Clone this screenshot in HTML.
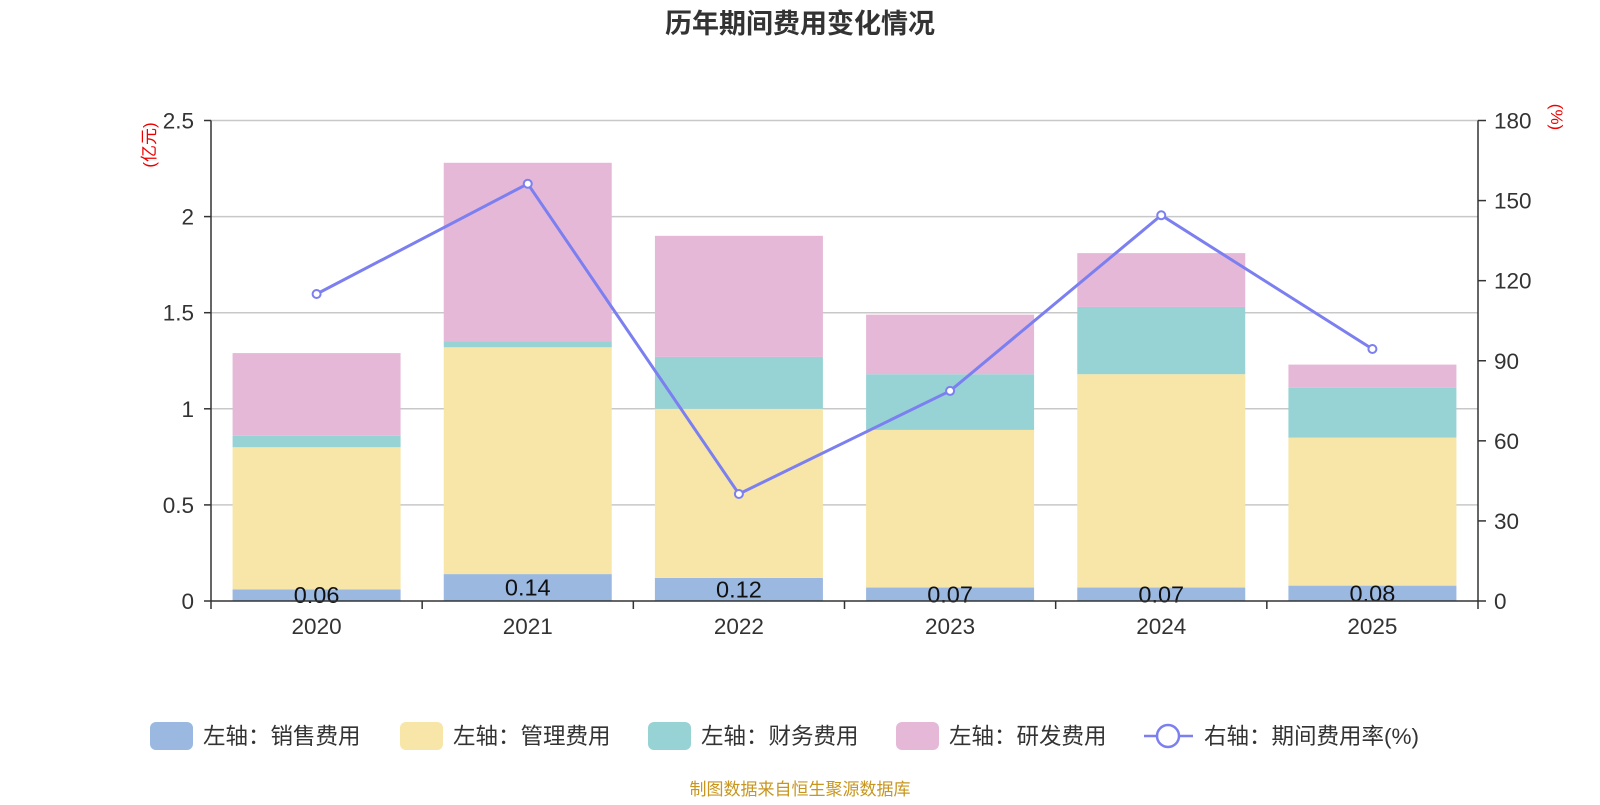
<!DOCTYPE html>
<html><head><meta charset="utf-8">
<style>
body{margin:0;background:#fff;}
svg text{font-family:"Liberation Sans","Noto Sans CJK SC",sans-serif;}
</style></head>
<body>
<svg id="chart" width="1600" height="800" viewBox="0 0 1600 800" xmlns="http://www.w3.org/2000/svg">
<text x="800" y="33" text-anchor="middle" font-size="27" font-weight="bold" fill="#333">历年期间费用变化情况</text>
<g id="grid"></g><g id="bars"></g><g id="line"></g><g id="axes"></g>
<text transform="translate(155,145) rotate(-90)" text-anchor="middle" font-size="17" fill="#e00">(亿元)</text>
<text transform="translate(1551,117) rotate(90)" text-anchor="middle" font-size="17" fill="#e00">(%)</text>
<g id="legend"></g>
<text x="800" y="795" text-anchor="middle" font-size="17" fill="#c8961e">制图数据来自恒生聚源数据库</text>
</svg>
<script>
const years=["2020","2021","2022","2023","2024","2025"];
const sales=[0.06,0.14,0.12,0.07,0.07,0.08];
const mgmt=[0.74,1.18,0.88,0.82,1.11,0.77];
const fin=[0.06,0.03,0.27,0.29,0.35,0.26];
const rd=[0.43,0.93,0.63,0.31,0.28,0.12];
const rate=[115,156.3,40.1,78.7,144.5,94.4];
const leftTicks=["0","0.5","1","1.5","2","2.5"];
const rightTicks=["0","30","60","90","120","150","180"];
const NS="http://www.w3.org/2000/svg";
const X0=211,X1=1478,Y0=601,Y1=120.5;
const yL=v=>Y0-(v/2.5)*(Y0-Y1);
const yR=v=>Y0-(v/180)*(Y0-Y1);
const bw=(X1-X0)/years.length;
const xc=i=>X0+bw*(i+0.5);
function mk(tag,attrs,parent,text){const e=document.createElementNS(NS,tag);for(const k in attrs)e.setAttribute(k,attrs[k]);if(text!==undefined)e.textContent=text;document.getElementById(parent).appendChild(e);return e;}
leftTicks.forEach(t=>{const v=parseFloat(t),y=yL(v);
 if(v>0){const g=mk('line',{x1:X0,x2:X1,y1:y,y2:y,stroke:'#c8c8c8','stroke-width':1.5},'grid');
 
 }
 mk('line',{x1:X0-7,x2:X0,y1:y,y2:y,stroke:'#333','stroke-width':1.5},'axes');
 const tx=mk('text',{x:X0-17,y:y+8,'text-anchor':'end','font-size':22.5,fill:'#333'},'axes',t);
 
 
});
rightTicks.forEach(t=>{const y=yR(parseFloat(t));
 mk('line',{x1:X1,x2:X1+8,y1:y,y2:y,stroke:'#333','stroke-width':1.5},'axes');
 const tx=mk('text',{x:X1+16,y:y+8,'font-size':22.5,fill:'#333'},'axes',t);
 
 
});
mk('line',{x1:X0,x2:X0,y1:Y1,y2:Y0,stroke:'#333','stroke-width':1.5},'axes');
mk('line',{x1:X1,x2:X1,y1:Y1,y2:Y0,stroke:'#333','stroke-width':1.5},'axes');
mk('line',{x1:X0,x2:X1,y1:Y0,y2:Y0,stroke:'#333','stroke-width':1.5},'axes');
for(let i=0;i<=years.length;i++){const x=X0+bw*i;mk('line',{x1:x,x2:x,y1:Y0,y2:Y0+8,stroke:'#333','stroke-width':1.5},'axes');}
years.forEach((yr,i)=>{const tx=mk('text',{x:xc(i),y:634,'text-anchor':'middle','font-size':22.5,fill:'#333'},'axes',yr);
 
 });
const series=[[sales,'#9bb8e0','sales'],[mgmt,'#f7e6a8','mgmt'],[fin,'#97d3d4','finance'],[rd,'#e6b8d8','rd']];
const w=168;
years.forEach((yr,i)=>{let base=0;
 series.forEach(([arr,col,nm])=>{const top=base+arr[i];
  const r=mk('rect',{x:xc(i)-w/2,y:yL(top),width:w,height:yL(base)-yL(top),fill:col},'bars');
  
  
  base=top;});
 const l=mk('text',{x:xc(i),y:yL(sales[i]/2)+8,'text-anchor':'middle','font-size':23.5,fill:'#111'},'bars',sales[i].toFixed(2));
 
 
});
const pts=rate.map((v,i)=>xc(i)+','+yR(v)).join(' ');
const pl=mk('polyline',{points:pts,fill:'none',stroke:'#7b7ff0','stroke-width':3},'line');


rate.forEach((v,i)=>{const c=mk('circle',{cx:xc(i),cy:yR(v),r:4,fill:'#fff',stroke:'#7b7ff0','stroke-width':2},'line');
 
 });
const leg=[['#9bb8e0','左轴：销售费用',150],['#f7e6a8','左轴：管理费用',400],['#97d3d4','左轴：财务费用',648],['#e6b8d8','左轴：研发费用',896]];
leg.forEach(([c,t,x])=>{const g=mk('g',{},'legend');
 
 
 const r=document.createElementNS(NS,'rect');r.setAttribute('x',x);r.setAttribute('y',722);r.setAttribute('width',43);r.setAttribute('height',28);r.setAttribute('rx',6);r.setAttribute('fill',c);g.appendChild(r);
 const tx=document.createElementNS(NS,'text');tx.setAttribute('x',x+53);tx.setAttribute('y',744);tx.setAttribute('font-size',22.5);tx.setAttribute('fill','#333');tx.textContent=t;g.appendChild(tx);});
const lg=mk('g',{},'legend');


lg.innerHTML='<line x1="1144" x2="1193" y1="736" y2="736" stroke="#7b7ff0" stroke-width="2.5"/><circle cx="1168" cy="736" r="11" fill="#fff" stroke="#7b7ff0" stroke-width="2.5"/><text x="1204" y="744" font-size="22.5" fill="#333">右轴：期间费用率(%)</text>';
</script>
</body></html>
